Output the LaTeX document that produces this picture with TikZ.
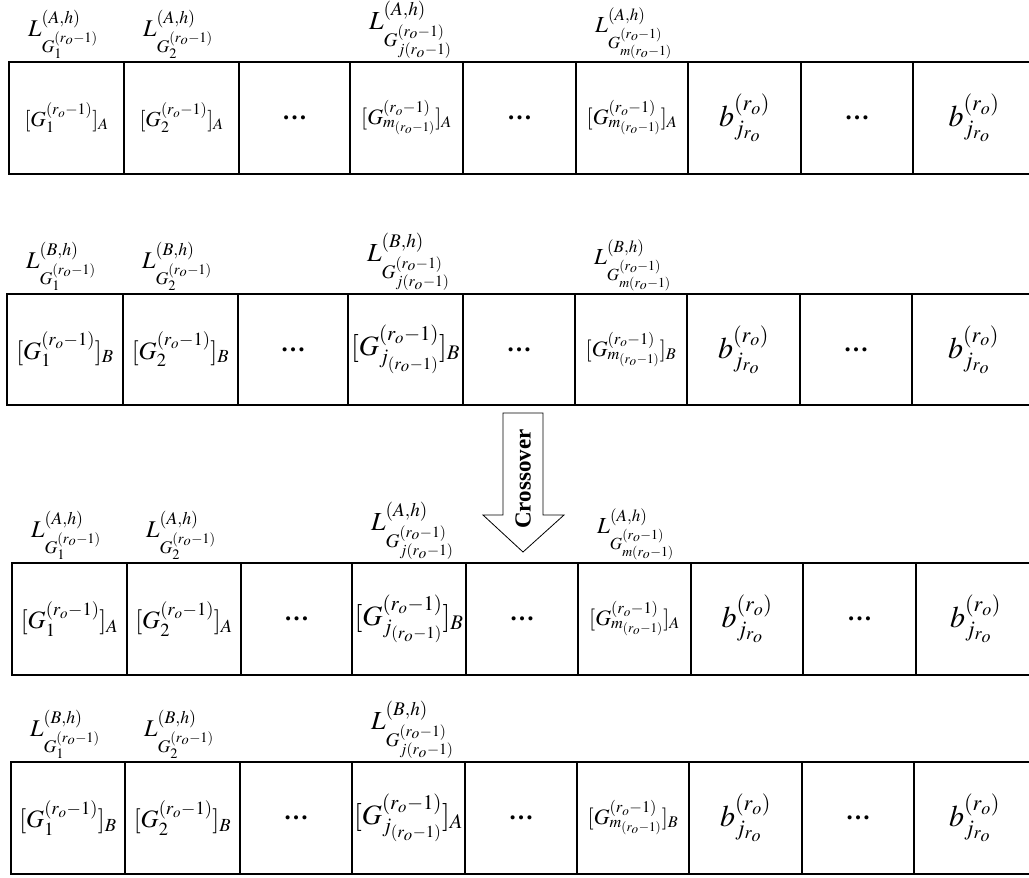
\documentclass[tikz,border=0pt]{standalone}
\usepackage{mathptmx}
\usepackage[no-math]{fontspec}
\setmainfont{Liberation Serif}
\newcommand\fsz[1]{\fontsize{#1}{#1}\selectfont}
\newcommand\dotcell{{\fsz{25}\bfseries …}}
\newcommand\bcell{{\fsz{30}$b^{(r_o)}_{j_{r_o}}$}}
\newcommand\gcell[3]{{\fsz{#1}$[G^{(r_o-1)}_{#2}]_{#3}$}}
\newcommand\lab[3]{{\fsz{#1}$L^{(#3,h)}_{G^{(r_o-1)}_{#2}}$}}
\newcommand\cellrow[4]{%
  \foreach \xa/\xb/\c [count=\i] in {#4} {%
    \node[cell, minimum width={(\xb-\xa)*1pt}, minimum height={(#3-#2)*1pt}] (#1c\i) at (\xa,#2) {\c};
  }}
\begin{document}
\begin{tikzpicture}[x=1pt,y=-1pt,
  cell/.style={draw, line width=1.8pt, inner sep=0pt, outer sep=0pt, anchor=north west},
  lbl/.style={anchor=south west, inner sep=0pt, xshift=19pt, yshift=3pt},
  bigarrow/.style={draw, line width=0.8pt, fill=white}]
\useasboundingbox (0,0) rectangle (1029,878);
% Row 1
\cellrow{ra}{62}{174}{9/124/{\gcell{21.5}{1}{A}}, 124/239/{\gcell{21.5}{2}{A}}, 239/350/{\dotcell}, 350/463/{\gcell{22}{m_{(r_o-1)}}{A}}, 463/576/{\dotcell}, 576/688/{\gcell{22}{m_{(r_o-1)}}{A}}, 688/801/{\bcell}, 801/913/{\dotcell}, 913/1035/{\bcell}}
\node[lbl] (ral1) at (rac1.north west) {\lab{24}{1}{A}};
\node[lbl] (ral2) at (rac2.north west) {\lab{24}{2}{A}};
\node[lbl] (ral4) at (rac4.north west) {\lab{26}{j(r_o-1)}{A}};
\node[lbl] (ral6) at (rac6.north west) {\lab{23}{m(r_o-1)}{A}};
% Row 2
\cellrow{rb}{294}{405}{7/123/{\gcell{25}{1}{B}}, 123/238/{\gcell{25}{2}{B}}, 238/348/{\dotcell}, 348/463/{\gcell{28}{j_{(r_o-1)}}{B}}, 463/575/{\dotcell}, 575/687/{\gcell{22}{m_{(r_o-1)}}{B}}, 687/800/{\bcell}, 800/912/{\dotcell}, 912/1035/{\bcell}}
\node[lbl] (rbl1) at (rbc1.north west) {\lab{24}{1}{B}};
\node[lbl] (rbl2) at (rbc2.north west) {\lab{24}{2}{B}};
\node[lbl] (rbl4) at (rbc4.north west) {\lab{26}{j(r_o-1)}{B}};
\node[lbl] (rbl6) at (rbc6.north west) {\lab{23}{m(r_o-1)}{B}};
% Row 3
\cellrow{rc}{563}{675}{12/127/{\gcell{25}{1}{A}}, 127/241/{\gcell{25}{2}{A}}, 241/352/{\dotcell}, 352/466/{\gcell{28}{j_{(r_o-1)}}{B}}, 466/578/{\dotcell}, 578/691/{\gcell{22}{m_{(r_o-1)}}{A}}, 691/803/{\bcell}, 803/916/{\dotcell}, 916/1035/{\bcell}}
\node[lbl] (rcl1) at (rcc1.north west) {\lab{24}{1}{A}};
\node[lbl] (rcl2) at (rcc2.north west) {\lab{24}{2}{A}};
\node[lbl] (rcl4) at (rcc4.north west) {\lab{26}{j(r_o-1)}{A}};
\node[lbl] (rcl6) at (rcc6.north west) {\lab{23}{m(r_o-1)}{A}};
% Row 4
\cellrow{rd}{762}{874}{11/125/{\gcell{25}{1}{B}}, 125/240/{\gcell{25}{2}{B}}, 240/352/{\dotcell}, 352/465/{\gcell{28}{j_{(r_o-1)}}{A}}, 465/577/{\dotcell}, 577/689/{\gcell{22}{m_{(r_o-1)}}{B}}, 689/802/{\bcell}, 802/914/{\dotcell}, 914/1035/{\bcell}}
\node[lbl] (rdl1) at (rdc1.north west) {\lab{24}{1}{B}};
\node[lbl] (rdl2) at (rdc2.north west) {\lab{24}{2}{B}};
\node[lbl] (rdl4) at (rdc4.north west) {\lab{26}{j(r_o-1)}{B}};
% Crossover arrow
\draw[bigarrow] (503,413) -- (543,413) -- (543,515) -- (564,515) -- (523,552) -- (483,515) -- (503,515) -- cycle;
\node[rotate=90, inner sep=0pt, font=\fsz{23}\bfseries] (xover) at (523,479) {Crossover};
\end{tikzpicture}
\end{document}
